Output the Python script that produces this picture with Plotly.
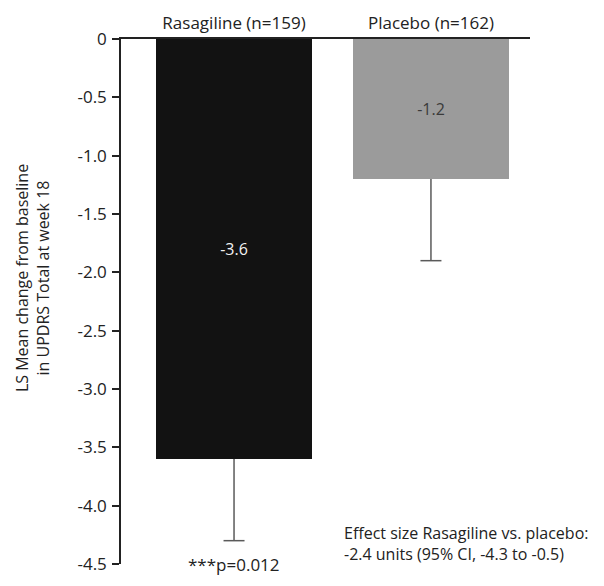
import plotly.graph_objects as go

# Trial arms and least-squares mean change at week 18
groups = ["Rasagiline (n=159)", "Placebo (n=162)"]
positions = [0, 1]
ls_mean = [-3.6, -1.2]
ci_lower_span = [0.7, 0.7]   # downward error extent
bar_colors = ["#121212", "#9b9b9b"]
label_colors = ["#f2f2f2", "#3a3a3a"]

y_ticks = [0, -0.5, -1.0, -1.5, -2.0, -2.5, -3.0, -3.5, -4.0, -4.5]
y_tick_text = ["0", "-0.5", "-1.0", "-1.5", "-2.0", "-2.5", "-3.0", "-3.5", "-4.0", "-4.5"]

FONT = "Open Sans, Noto Sans, sans-serif"
INK = "#222222"
WHISKER = "#5a5a5a"

lower_ends = [m - s for m, s in zip(ls_mean, ci_lower_span)]

fig = go.Figure()
fig.add_trace(go.Bar(
    x=positions,
    y=ls_mean,
    width=0.79,
    marker=dict(color=bar_colors, line=dict(width=0)),
    text=[f"{v:.1f}" for v in ls_mean],
    textposition="inside",
    insidetextanchor="middle",
    textfont=dict(family=FONT, size=16, color=label_colors),
    showlegend=False,
    hoverinfo="skip",
))

# Downward whiskers: stem from the bar end, cap at the lower end
for x, top, bottom in zip(positions, ls_mean, lower_ends):
    fig.add_trace(go.Scatter(
        x=[x, x], y=[top, bottom], mode="lines",
        line=dict(color=WHISKER, width=1.5),
        showlegend=False, hoverinfo="skip", cliponaxis=False,
    ))
fig.add_trace(go.Scatter(
    x=positions, y=lower_ends, mode="markers",
    marker=dict(symbol="line-ew", size=15, line=dict(color=WHISKER, width=1.5)),
    showlegend=False, hoverinfo="skip", cliponaxis=False,
))

fig.update_layout(
    width=604, height=586,
    margin=dict(l=121, r=74, t=37, b=11),
    paper_bgcolor="white", plot_bgcolor="white",
    font=dict(family=FONT, size=16, color=INK),
    bargap=0,
    xaxis=dict(
        range=[-0.574, 1.503],
        side="top",
        tickvals=positions, ticktext=groups,
        tickfont=dict(size=17, color=INK),
        showline=True, linecolor=INK, linewidth=1.5,
        ticks="", showgrid=False, zeroline=False,
        ticklabelstandoff=1,
    ),
    yaxis=dict(
        range=[-4.5, 0],
        tickvals=y_ticks, ticktext=y_tick_text,
        tickfont=dict(size=17, color=INK),
        ticks="outside", ticklen=7, tickwidth=1.5, tickcolor=INK,
        showline=True, linecolor=INK, linewidth=1.5,
        showgrid=False, zeroline=False,
        ticklabelstandoff=2,
    ),
)

# Axis title
fig.add_annotation(
    x=-0.2176, y=0.5446, xref="paper", yref="paper",
    text="LS Mean change from baseline<br>in UPDRS Total at week 18",
    textangle=-90, showarrow=False,
    font=dict(family=FONT, size=16, color=INK),
    xanchor="center", yanchor="middle",
)
fig.add_annotation(
    x=0, y=-4.5, xref="x", yref="y",
    text="***p=0.012", showarrow=False,
    font=dict(family=FONT, size=17, color=INK),
    yanchor="middle", xanchor="center",
)
fig.add_annotation(
    x=0.55, y=-4.32, xref="x", yref="y",
    text="Effect size Rasagiline vs. placebo:<br>-2.4 units (95% CI, -4.3 to -0.5)",
    showarrow=False, align="left",
    font=dict(family=FONT, size=16, color=INK),
    xanchor="left", yanchor="middle",
)

fig.write_html("out.html")
